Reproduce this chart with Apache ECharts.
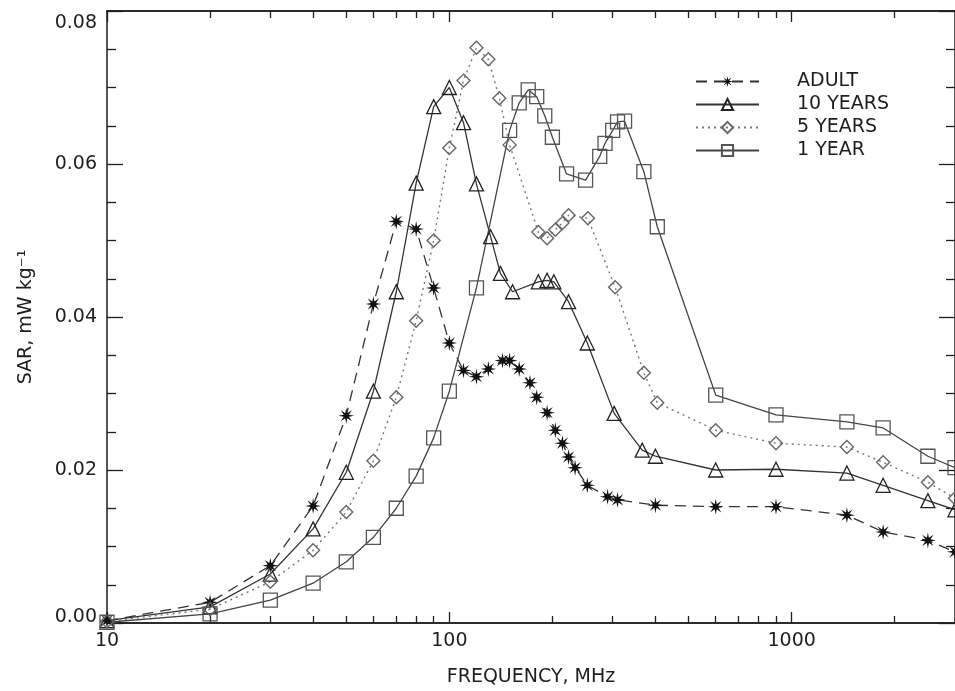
<!DOCTYPE html>
<html>
<head>
<meta charset="utf-8">
<script src="https://cdn.jsdelivr.net/npm/echarts@6/dist/echarts.min.js"></script>
<style>
  html, body { margin: 0; padding: 0; background: #fff; }
  #chart { width: 955px; height: 691px; }
</style>
</head>
<body>
<div id="chart"></div>
<script>
// --- data ---
var seriesNames = ['ADULT', '10 YEARS', '5 YEARS', '1 YEAR'];

var adultFreq = [10, 20, 30, 40, 50, 60, 70, 80, 90, 100, 110, 120, 130, 143, 150, 160, 172, 180, 193, 204, 214, 223, 233, 253, 290, 310, 400, 600, 900, 1450, 1850, 2500, 3000];
var adultSar = [0.0003, 0.0027, 0.0075, 0.0153, 0.0271, 0.0417, 0.0525, 0.0515, 0.0438, 0.0366, 0.0330, 0.0322, 0.0332, 0.0343, 0.0343, 0.0332, 0.0314, 0.0295, 0.0275, 0.0252, 0.0235, 0.0217, 0.0203, 0.0180, 0.0165, 0.0161, 0.0154, 0.0152, 0.0152, 0.0141, 0.0119, 0.0108, 0.0093];

var tenFreq = [10, 20, 30, 40, 50, 60, 70, 80, 90, 100, 110, 120, 132, 141, 153, 182, 193, 202, 223, 253, 303, 366, 400, 600, 900, 1450, 1850, 2500, 3000];
var tenSar = [0.0003, 0.0021, 0.0064, 0.0123, 0.0197, 0.0303, 0.0433, 0.0575, 0.0675, 0.0700, 0.0654, 0.0574, 0.0505, 0.0457, 0.0433, 0.0446, 0.0448, 0.0446, 0.0420, 0.0366, 0.0274, 0.0226, 0.0218, 0.0200, 0.0201, 0.0196, 0.0180, 0.0160, 0.0148];

var fiveFreq = [10, 20, 30, 40, 50, 60, 70, 80, 90, 100, 110, 120, 130, 140, 150, 182, 193, 204, 214, 223, 254, 305, 370, 405, 600, 900, 1450, 1850, 2500, 3000];
var fiveSar = [0.0002, 0.0018, 0.0054, 0.0095, 0.0145, 0.0212, 0.0295, 0.0395, 0.0500, 0.0621, 0.0709, 0.0752, 0.0737, 0.0686, 0.0625, 0.0511, 0.0503, 0.0514, 0.0523, 0.0533, 0.0529, 0.0439, 0.0327, 0.0288, 0.0252, 0.0235, 0.0230, 0.0210, 0.0184, 0.0163];

var oneFreq = [10, 20, 30, 40, 50, 60, 70, 80, 90, 100, 120, 150, 160, 170, 180, 190, 200, 220, 250, 275, 285, 300, 310, 325, 370, 405, 600, 900, 1450, 1850, 2500, 3000];
var oneSar = [0.0001, 0.0012, 0.0030, 0.0052, 0.0080, 0.0112, 0.0150, 0.0192, 0.0242, 0.0303, 0.0438, 0.0644, 0.0680, 0.0697, 0.0688, 0.0663, 0.0635, 0.0587, 0.0579, 0.0610, 0.0627, 0.0644, 0.0655, 0.0656, 0.0590, 0.0518, 0.0298, 0.0272, 0.0263, 0.0255, 0.0218, 0.0203];

var xMajorTicks = [10, 100, 1000];
var xMinorTicks = [20, 30, 40, 50, 60, 70, 80, 90, 200, 300, 400, 500, 600, 700, 800, 900, 2000];

(function() {
  var ink = '#1e1e1e';
  var font = 'DejaVu Sans';
  var starPath = 'path://M20 10 L13.2 11.3 L17.07 17.07 L11.3 13.2 L10 20 L8.7 13.2 L2.93 17.07 L6.8 11.3 L0 10 L6.8 8.7 L2.93 2.93 L8.7 6.8 L10 0 L11.3 6.8 L17.07 2.93 L13.2 8.7 Z';

  function pairs(xs, ys) {
    return xs.map(function(x, i) { return [x, ys[i]]; });
  }

  function xAxisDef(position, ticks, len, labels) {
    return {
      type: 'log',
      logBase: 10,
      min: 10,
      max: 3000,
      position: position,
      axisLine: { show: true, onZero: false, lineStyle: { color: ink, width: 1.5 } },
      axisTick: { show: true, inside: true, length: len, customValues: ticks, lineStyle: { color: ink, width: 1.3 } },
      axisLabel: labels ? {
        show: true, margin: 9, color: ink, fontFamily: font, fontSize: 19,
        customValues: ticks,
        formatter: function(v) { return String(Math.round(v)); }
      } : { show: false },
      splitLine: { show: false },
      name: labels ? 'FREQUENCY, MHz' : '',
      nameLocation: 'middle',
      nameGap: 45,
      nameTextStyle: { color: ink, fontFamily: font, fontSize: 19 }
    };
  }

  function yAxisDef(position, labels) {
    return {
      type: 'value',
      min: 0,
      max: 0.08,
      interval: 0.02,
      position: position,
      axisLine: { show: true, onZero: false, lineStyle: { color: ink, width: 1.5 } },
      axisTick: { show: true, inside: true, length: 16, lineStyle: { color: ink, width: 1.3 } },
      minorTick: { show: true, splitNumber: 4, length: 9, lineStyle: { color: ink, width: 1.3 } },
      axisLabel: labels ? {
        show: true, margin: 10, color: ink, fontFamily: font, fontSize: 19,
        formatter: function(v) {
          var s = v.toFixed(2);
          if (v >= 0.08) return '{top|' + s + '}';
          if (v <= 0) return '{bot|' + s + '}';
          return s;
        },
        rich: {
          top: { fontFamily: font, fontSize: 19, color: ink, padding: [24, 0, 0, 0] },
          bot: { fontFamily: font, fontSize: 19, color: ink, padding: [0, 0, 12, 0] }
        }
      } : { show: false },
      splitLine: { show: false },
      minorSplitLine: { show: false },
      name: labels ? 'SAR, mW kg\u207B\u00B9' : '',
      nameLocation: 'middle',
      nameGap: 71,
      nameTextStyle: { color: ink, fontFamily: font, fontSize: 19 }
    };
  }

  var chart = echarts.init(document.getElementById('chart'), null, { renderer: 'canvas' });
  chart.setOption({
    animation: false,
    backgroundColor: '#fff',
    grid: { left: 107, right: 0, top: 11, bottom: 68, containLabel: false, outerBoundsMode: 'none' },
    legend: {
      data: seriesNames,
      orient: 'vertical',
      left: 690,
      top: 67,
      itemWidth: 63,
      itemHeight: 14,
      itemGap: 4,
      align: 'left',
      textStyle: { color: ink, fontFamily: font, fontSize: 19, lineHeight: 19, padding: [0, 0, 0, 33] }
    },
    xAxis: [
      xAxisDef('bottom', xMajorTicks, 11, true),
      xAxisDef('bottom', xMinorTicks, 7, false),
      xAxisDef('top', xMajorTicks, 11, false),
      xAxisDef('top', xMinorTicks, 7, false)
    ],
    yAxis: [yAxisDef('left', true), yAxisDef('right', false)],
    series: [
      {
        name: 'ADULT', type: 'line', data: pairs(adultFreq, adultSar),
        symbol: starPath, symbolSize: 16,
        lineStyle: { color: '#333', width: 1.3, type: [11, 7] },
        itemStyle: { color: '#111' }
      },
      {
        name: '10 YEARS', type: 'line', data: pairs(tenFreq, tenSar),
        symbol: 'triangle', symbolSize: 14,
        lineStyle: { color: '#333', width: 1.3 },
        itemStyle: { color: 'rgba(255,255,255,0)', borderColor: '#222', borderWidth: 1.3 }
      },
      {
        name: '5 YEARS', type: 'line', data: pairs(fiveFreq, fiveSar),
        symbol: 'diamond', symbolSize: 13,
        lineStyle: { color: '#777', width: 1.4, type: [2, 4] },
        itemStyle: { color: 'rgba(255,255,255,0)', borderColor: '#666', borderWidth: 1.4 }
      },
      {
        name: '1 YEAR', type: 'line', data: pairs(oneFreq, oneSar),
        symbol: 'rect', symbolSize: 14,
        lineStyle: { color: '#444', width: 1.3 },
        itemStyle: { color: 'rgba(255,255,255,0)', borderColor: '#555', borderWidth: 1.3 }
      }
    ]
  });
  window.addEventListener('resize', function() { chart.resize(); });
})();
</script>
</body>
</html>
